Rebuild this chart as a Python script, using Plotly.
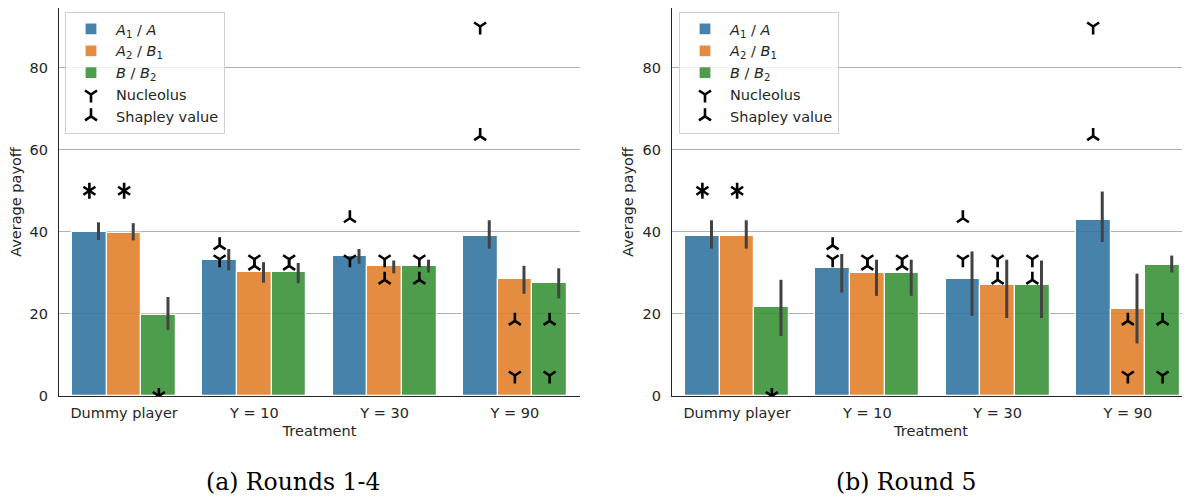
import plotly.graph_objects as go

# ---------------- data ----------------
treatments = ["Dummy player", "Y = 10", "Y = 30", "Y = 90"]
series_names = ["<i>A</i><sub>1</sub> / <i>A</i>",
                "<i>A</i><sub>2</sub> / <i>B</i><sub>1</sub>",
                "<i>B</i> / <i>B</i><sub>2</sub>"]

# Rounds 1-4
r14_a1_mean = [39.9, 33.2, 34.0, 38.9]
r14_a1_lo = [38.0, 30.6, 32.2, 35.9]
r14_a1_hi = [42.3, 35.8, 35.8, 42.8]
r14_a2_mean = [39.8, 30.2, 31.7, 28.5]
r14_a2_lo = [37.9, 27.6, 29.9, 24.9]
r14_a2_hi = [42.1, 32.6, 33.0, 31.7]
r14_b_mean = [19.8, 30.2, 31.7, 27.5]
r14_b_lo = [16.1, 27.5, 30.1, 23.8]
r14_b_hi = [24.1, 32.4, 33.2, 31.1]

# Round 5
r5_a1_mean = [38.9, 31.1, 28.6, 42.9]
r5_a1_lo = [35.9, 25.2, 19.5, 37.5]
r5_a1_hi = [42.8, 34.6, 35.2, 49.8]
r5_a2_mean = [38.9, 30.0, 27.0, 21.1]
r5_a2_lo = [35.9, 24.4, 19.0, 12.8]
r5_a2_hi = [42.8, 33.2, 33.2, 29.8]
r5_b_mean = [21.6, 30.0, 27.0, 32.0]
r5_b_lo = [14.6, 24.4, 19.0, 30.1]
r5_b_hi = [28.3, 33.2, 33.0, 34.2]

# Theoretical predictions
nucleolus_a1 = [50, 33.3, 33.3, 90]
nucleolus_a2 = [50, 33.3, 33.3, 5]
nucleolus_b = [0, 33.3, 33.3, 5]
shapley_a1 = [50, 36.7, 43.3, 63.3]
shapley_a2 = [50, 31.7, 28.3, 18.3]
shapley_b = [0, 31.7, 28.3, 18.3]

captions = ["(a) Rounds 1-4", "(b) Round 5"]

# ---------------- styling ----------------
colors = ["rgba(50,116,161,0.9)", "rgba(225,129,44,0.9)", "rgba(58,146,58,0.9)"]
FONT = "DejaVu Sans"
FS = 14.5
TXT = "#262626"
group_width = 0.8
bar_w = group_width / 3
err_shift = 0.07

panels = [
    dict(means=[r14_a1_mean, r14_a2_mean, r14_b_mean],
         los=[r14_a1_lo, r14_a2_lo, r14_b_lo],
         his=[r14_a1_hi, r14_a2_hi, r14_b_hi]),
    dict(means=[r5_a1_mean, r5_a2_mean, r5_b_mean],
         los=[r5_a1_lo, r5_a2_lo, r5_b_lo],
         his=[r5_a1_hi, r5_a2_hi, r5_b_hi]),
]
nucleolus = [nucleolus_a1, nucleolus_a2, nucleolus_b]
shapley = [shapley_a1, shapley_a2, shapley_b]

fig = go.Figure()

for p, panel in enumerate(panels):
    xa = "x" if p == 0 else "x2"
    ya = "y" if p == 0 else "y2"
    leg = "legend" if p == 0 else "legend2"
    for j in range(3):
        xs = [i + (j - 1) * bar_w for i in range(len(treatments))]
        fig.add_trace(go.Bar(
            x=xs, y=panel["means"][j], width=bar_w,
            marker=dict(color=colors[j], line=dict(color="white", width=1.2)),
            name=series_names[j], xaxis=xa, yaxis=ya, legend=leg,
        ))
    for j in range(3):
        xs = [i + (j - 1) * bar_w + err_shift for i in range(len(treatments))]
        m = panel["means"][j]
        fig.add_trace(go.Scatter(
            x=xs, y=m, mode="markers",
            marker=dict(size=1, color="rgba(0,0,0,0)"),
            error_y=dict(type="data", symmetric=False,
                         array=[h - v for h, v in zip(panel["his"][j], m)],
                         arrayminus=[v - l for l, v in zip(panel["los"][j], m)],
                         color="#424242", thickness=3, width=0),
            showlegend=False, hoverinfo="skip", xaxis=xa, yaxis=ya,
        ))
    # theoretical markers
    for name, data, sym in [("Nucleolus", nucleolus, "y-down"),
                            ("Shapley value", shapley, "y-up")]:
        xs, ys = [], []
        for j in range(3):
            for i in range(len(treatments)):
                xs.append(i + (j - 1) * bar_w)
                ys.append(data[j][i])
        fig.add_trace(go.Scatter(
            x=xs, y=ys, mode="markers", name=name,
            marker=dict(symbol=sym, size=10, color="black",
                        line=dict(color="black", width=2.6)),
            xaxis=xa, yaxis=ya, legend=leg,
        ))

# page body has an 8px margin: figure pixel = reference pixel - 8
OFF = 8
W, H = 1190 - OFF, 497 - OFF
top_px, bottom_px = 8 - OFF, 396 - OFF
plot_h = bottom_px - top_px

def xdom(l, r):
    return [(l - OFF) / W, min(1.0, (r - OFF) / W)]

def ypaper(py):
    return (bottom_px - (py - OFF)) / plot_h

axis_common = dict(showline=True, linecolor=TXT, linewidth=1.3, zeroline=False,
                   tickfont=dict(family=FONT, size=FS, color=TXT), ticks="")
yaxis_common = dict(axis_common, range=[0, 94.5], tickvals=[0, 20, 40, 60, 80],
                    showgrid=True, gridcolor="#b0b0b0", gridwidth=1.3,
                    title=dict(text="Average payoff", font=dict(family=FONT, size=FS, color=TXT),
                               standoff=5),
                    ticklabelstandoff=7)
xaxis_common = dict(axis_common, tickvals=list(range(len(treatments))), ticktext=treatments,
                    showgrid=False,
                    title=dict(text="Treatment", font=dict(family=FONT, size=FS, color=TXT),
                               standoff=6),
                    ticklabelstandoff=3)

legend_common = dict(font=dict(family=FONT, size=FS, color=TXT), bgcolor="rgba(255,255,255,0.8)",
                     bordercolor="#d0d0d0", borderwidth=1, xanchor="left", yanchor="top",
                     tracegroupgap=0, itemwidth=40)

fig.update_layout(
    width=W, height=H,
    margin=dict(l=0, r=0, t=top_px, b=H - bottom_px),
    plot_bgcolor="white", paper_bgcolor="white",
    barmode="overlay", bargap=0,
    font=dict(family=FONT, size=FS, color=TXT),
    xaxis=dict(xaxis_common, domain=xdom(59, 580), range=[-0.5, 3.5], anchor="y"),
    yaxis=dict(yaxis_common, domain=[0, 1], anchor="x"),
    xaxis2=dict(xaxis_common, domain=xdom(672, 1190), range=[-0.5, 3.477], anchor="y2"),
    yaxis2=dict(yaxis_common, domain=[0, 1], anchor="x2"),
    legend=dict(legend_common, x=(65 - OFF) / W, y=ypaper(12)),
    legend2=dict(legend_common, x=(679 - OFF) / W, y=ypaper(12)),
    showlegend=True,
)

for cap, cx in zip(captions, [293, 906]):
    fig.add_annotation(text=cap, x=(cx - OFF) / W, y=ypaper(482),
                       xref="paper", yref="paper", showarrow=False,
                       xanchor="center", yanchor="middle",
                       font=dict(family="DejaVu Serif", size=23.5, color="black"))

fig.write_html("out.html")
